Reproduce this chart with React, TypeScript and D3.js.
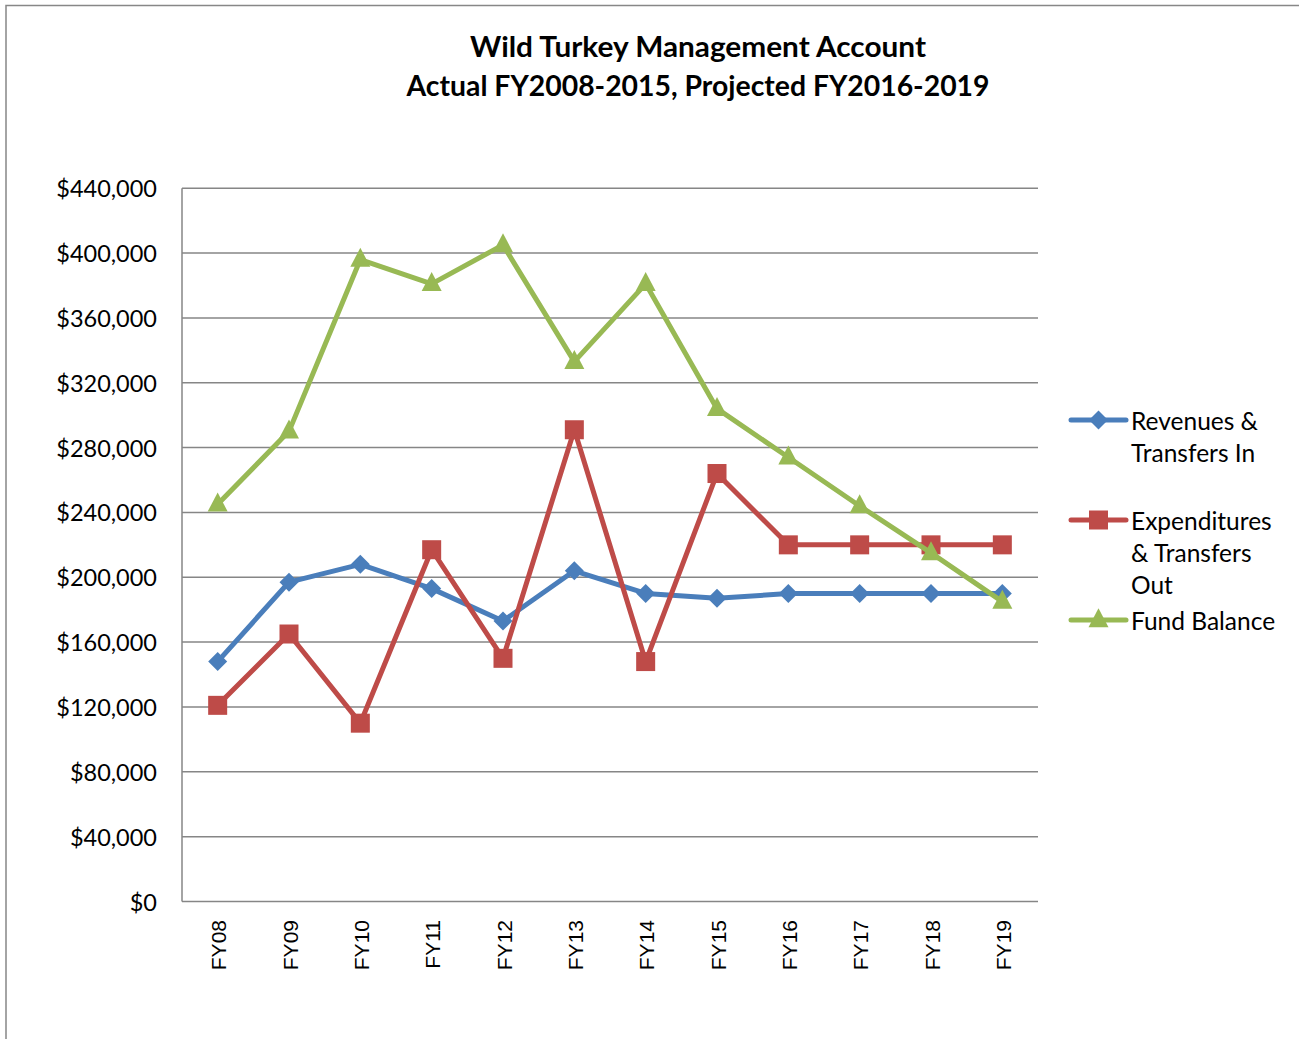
import React from "react";
import * as d3 from "d3";

const categories = ["FY08", "FY09", "FY10", "FY11", "FY12", "FY13", "FY14", "FY15", "FY16", "FY17", "FY18", "FY19"];
const revenues = [148000, 197000, 208000, 193000, 173000, 204000, 190000, 187000, 190000, 190000, 190000, 190000];
const expenditures = [121000, 165000, 110000, 217000, 150000, 291000, 148000, 264000, 220000, 220000, 220000, 220000];
const fundBalance = [245000, 290000, 396000, 381000, 405000, 333000, 381000, 304000, 274000, 244000, 215000, 185000];
const yTicks = [0, 40000, 80000, 120000, 160000, 200000, 240000, 280000, 320000, 360000, 400000, 440000];
const titleLines = ["Wild Turkey Management Account", "Actual FY2008-2015, Projected FY2016-2019"];

const series = [
  { name: ["Revenues &", "Transfers In"], values: revenues, color: "#4A7EBB", marker: "diamond" },
  { name: ["Expenditures", "& Transfers", "Out"], values: expenditures, color: "#BE4B48", marker: "square" },
  { name: ["Fund Balance"], values: fundBalance, color: "#98B954", marker: "triangle" },
];

const calibri = "Lato, 'Open Sans', sans-serif";
const arial = "'Liberation Sans', Arial, sans-serif";

function Marker({ type, x, y, color }: { type: string; x: number; y: number; color: string }) {
  if (type === "diamond") {
    const r = 9.5;
    return <path d={`M${x},${y - r}L${x + r},${y}L${x},${y + r}L${x - r},${y}Z`} fill={color} />;
  }
  if (type === "square") {
    const s = 19;
    return <rect x={x - s / 2} y={y - s / 2} width={s} height={s} fill={color} />;
  }
  const w = 20, h = 19;
  return <path d={`M${x},${y - h * 0.62}L${x + w / 2},${y + h * 0.38}L${x - w / 2},${y + h * 0.38}Z`} fill={color} />;
}

export default function App() {
  const W = 1299, H = 1039;
  const left = 182, right = 1038, top = 188.2, bottom = 901.5;
  const x = d3.scaleBand<string>().domain(categories).range([left, right]);
  const y = d3.scaleLinear().domain([0, 440000]).range([bottom, top]);
  const cx = (c: string) => (x(c) as number) + x.bandwidth() / 2;
  const line = d3.line<number>().x((_, i) => cx(categories[i])).y((v) => y(v));
  const fmt = (v: number) => "$" + d3.format(",")(v);

  const legendX1 = 1071, legendX2 = 1126, legendText = 1131;
  const legendRows = [420, 520, 620];
  const titleWidths = [456, 583];

  return (
    <svg width={W} height={H} style={{ position: "absolute", left: 0, top: 0, display: "block" }}>
      <rect x={0} y={0} width={W} height={H} fill="#fff" />
      <path d={`M6,${H + 2}V5.5H${W + 2}`} fill="none" stroke="#878787" strokeWidth={1.5} />
      {titleLines.map((t, i) => (
        <text key={i} x={698} y={46 + i * 39} textAnchor="middle" dominantBaseline="central"
          fontFamily={calibri} fontWeight={700} fontSize={28.5} fill="#000"
          textLength={titleWidths[i]} lengthAdjust="spacingAndGlyphs">{t}</text>
      ))}
      {yTicks.map((t) => (
        <g key={t}>
          <line x1={left} x2={right} y1={y(t)} y2={y(t)} stroke="#868686" strokeWidth={1.5} />
          <text x={157} y={y(t)} textAnchor="end" dominantBaseline="central" fontFamily={calibri} fontSize={23.5} fill="#000">{fmt(t)}</text>
        </g>
      ))}
      <line x1={left} x2={left} y1={top} y2={bottom} stroke="#868686" strokeWidth={1.5} />
      {categories.map((c) => (
        <text key={c} transform={`translate(${cx(c) + 1},920) rotate(-90)`} textAnchor="end" dominantBaseline="central"
          fontFamily={arial} fontSize={21} fill="#000">{c}</text>
      ))}
      {series.map((s) => (
        <g key={s.marker}>
          <path d={line(s.values) as string} fill="none" stroke={s.color} strokeWidth={5} strokeLinejoin="round" strokeLinecap="round" />
          {s.values.map((v, i) => (
            <Marker key={i} type={s.marker} x={cx(categories[i])} y={y(v)} color={s.color} />
          ))}
        </g>
      ))}
      {series.map((s, si) => (
        <g key={"l" + si}>
          <line x1={legendX1} x2={legendX2} y1={legendRows[si]} y2={legendRows[si]} stroke={s.color} strokeWidth={5} strokeLinecap="round" />
          <Marker type={s.marker} x={(legendX1 + legendX2) / 2} y={legendRows[si]} color={s.color} />
          {s.name.map((n, j) => (
            <text key={j} x={legendText} y={legendRows[si] + j * 32} dominantBaseline="central" fontFamily={calibri} fontSize={24.5} fill="#000">{n}</text>
          ))}
        </g>
      ))}
    </svg>
  );
}
